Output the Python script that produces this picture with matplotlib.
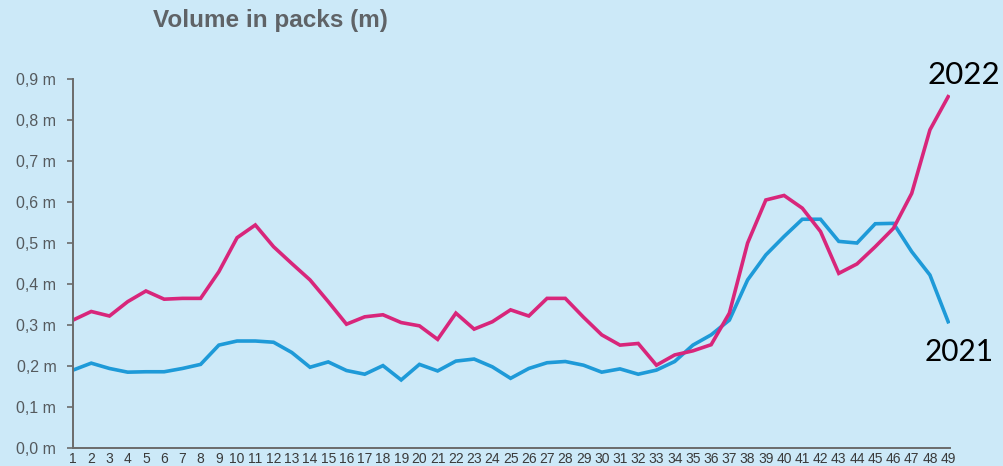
import matplotlib

matplotlib.use("Agg")
import matplotlib.pyplot as plt
from matplotlib.ticker import FuncFormatter

weeks = list(range(1, 50))
vol_2022 = [
    0.312, 0.333, 0.322, 0.357, 0.383, 0.363, 0.365, 0.365, 0.430, 0.513,
    0.544, 0.491, 0.450, 0.410, 0.357, 0.302, 0.320, 0.325, 0.306, 0.298,
    0.265, 0.329, 0.290, 0.308, 0.337, 0.322, 0.365, 0.365, 0.319, 0.276,
    0.251, 0.255, 0.202, 0.227, 0.237, 0.252, 0.329, 0.500, 0.605, 0.616,
    0.585, 0.528, 0.426, 0.449, 0.491, 0.536, 0.621, 0.776, 0.857,
]
vol_2021 = [
    0.190, 0.207, 0.194, 0.185, 0.186, 0.186, 0.194, 0.204, 0.251, 0.261,
    0.261, 0.258, 0.233, 0.197, 0.210, 0.189, 0.180, 0.201, 0.166, 0.204,
    0.188, 0.212, 0.217, 0.198, 0.170, 0.194, 0.208, 0.211, 0.202, 0.185,
    0.193, 0.180, 0.190, 0.211, 0.251, 0.276, 0.312, 0.410, 0.471, 0.516,
    0.558, 0.558, 0.504, 0.500, 0.547, 0.548, 0.479, 0.422, 0.308,
]
y_ticks = [0.0, 0.1, 0.2, 0.3, 0.4, 0.5, 0.6, 0.7, 0.8, 0.9]

BG = "#cce9f8"
PINK = "#d8267b"
BLUE = "#1e9ad8"
GREY = "#555a5e"
ARIAL = ["Liberation Sans", "DejaVu Sans"]

fig = plt.figure(figsize=(10.04, 4.66), dpi=100, facecolor=BG)
ax = fig.add_axes([0.0727, 0.0386, 0.8735, 0.7918], facecolor=BG)

ax.plot(weeks, vol_2021, color=BLUE, linewidth=2.6, solid_joinstyle="miter")
ax.plot(weeks, vol_2022, color=PINK, linewidth=2.6, solid_joinstyle="miter")

ax.set_xlim(1, 49.1)
ax.set_ylim(0, 0.9)
ax.set_yticks(y_ticks)
ax.yaxis.set_major_formatter(FuncFormatter(lambda v, _: f"{v:.1f} m".replace(".", ",")))
ax.set_xticks(weeks)
ax.set_xticklabels([str(w) for w in weeks])

for side in ("top", "right"):
    ax.spines[side].set_visible(False)
for side in ("left", "bottom"):
    ax.spines[side].set_color("#6b6b6b")
    ax.spines[side].set_linewidth(1.4)
ax.spines["left"].set_bounds(0, 0.9)

ax.tick_params(axis="y", direction="out", length=4, width=1.2, color="#6b6b6b",
               labelsize=11.5, labelcolor=GREY, pad=8)
ax.tick_params(axis="x", length=0, labelsize=10, labelcolor="#3a3a3a", pad=3)
for lbl in ax.get_yticklabels() + ax.get_xticklabels():
    lbl.set_family(ARIAL)

fig.text(0.269, 0.955, "Volume in packs (m)", ha="center", va="center",
         fontsize=17.5, fontweight="bold", color="#5f6367", family=ARIAL)

fig.text(0.960, 0.838, "2022", ha="center", va="center", fontsize=22.5,
         family="Lato", color="black")
fig.text(0.955, 0.245, "2021", ha="center", va="center", fontsize=21.5,
         family="Lato", color="black")

fig.savefig("out.png", dpi=100, facecolor=BG)
